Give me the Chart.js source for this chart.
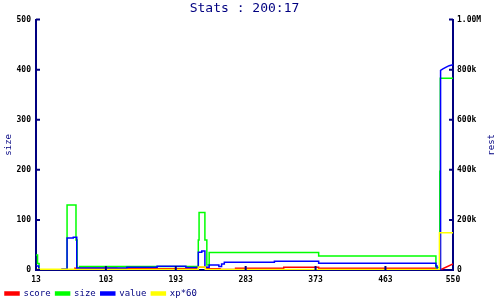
<!DOCTYPE html>
<html>
<head>
<meta charset="utf-8">
<script src="https://cdn.jsdelivr.net/npm/chart.js@4"></script>
<style>
  html, body { margin: 0; padding: 0; background: #fff; }
</style>
</head>
<body>
<canvas id="grafica" width="500" height="300"></canvas>
<script>
// --- datos ---
const titulo = 'Stats : 200:17';
const xTicks = [13, 103, 193, 283, 373, 463, 550];

// size (eje izquierdo)
const sizeX = [13, 15, 15, 17, 17, 53, 53, 64.5, 64.5, 66, 66, 69, 69, 222, 222, 223, 223, 230.5, 230.5, 233, 233, 236, 236, 377, 377, 528, 528, 533, 533, 533.6, 533.6, 550];
const sizeY = [30, 30, 13, 13, 0, 0, 130, 130, 60, 60, 0, 0, 7, 7, 60, 60, 115, 115, 60, 60, 10, 10, 35, 35, 28, 28, 5, 5, 197, 197, 383, 383];

// value (eje derecho)
const valueX = [13, 16.5, 16.5, 46.5, 46.5, 53, 53, 61, 61, 65.5, 65.5, 66, 66, 130, 130, 169, 169, 206, 206, 222, 222, 226.5, 226.5, 230.5, 230.5, 236, 236, 248.5, 248.5, 252, 252, 255.5, 255.5, 320, 320, 377, 377, 528, 528, 529.5, 529.5, 534, 534, 537, 540, 545, 550];
const valueY = [16000, 16000, 0, 0, 4000, 4000, 128000, 128000, 131000, 131000, 4000, 4000, 8000, 8000, 11000, 11000, 15000, 15000, 10000, 10000, 71000, 71000, 76000, 76000, 11000, 11000, 20000, 20000, 14000, 14000, 24000, 24000, 31000, 31000, 35000, 35000, 27000, 27000, 16000, 16000, 0, 0, 797000, 803000, 808000, 816000, 820000];

// score (eje derecho)
const scoreX = [62, 117, 117, 220, 220, 233, 233, 250, 250, 270, 270, 332, 332, 377, 377, 528, 528, 533.3, 550];
const scoreY = [7000, 7000, 5000, 5000, 11000, 11000, 5000, 5000, 2000, 2000, 7000, 7000, 11000, 11000, 7000, 7000, 0, 0, 24000];

// xp*60 (eje derecho)
const xpX = [13, 62, 62, 222, 222, 231, 231, 532.5, 532.5, 550];
const xpY = [3000, 3000, 1500, 1500, 12000, 12000, 1500, 1500, 149000, 149000];

const AZUL = '#000080';
const FUENTE = 'DejaVu Sans Mono';

function puntos(xs, ys) {
    return xs.map((x, i) => ({ x: x, y: ys[i] }));
}

function serie(label, color, xs, ys, eje, orden) {
    return {
        label: label,
        data: puntos(xs, ys),
        borderColor: color,
        backgroundColor: color,
        borderWidth: 1.5,
        pointRadius: 0,
        tension: 0,
        yAxisID: eje,
        order: orden
    };
}

// marcas cortas hacia dentro del area del grafico, en cada tick de los tres ejes
const marcasInternas = {
    id: 'marcasInternas',
    afterDraw(chart) {
        const ctx = chart.ctx;
        const area = chart.chartArea;
        const largo = 4;
        ctx.save();
        ctx.strokeStyle = AZUL;
        ctx.lineWidth = 2;
        ctx.beginPath();
        chart.scales.x.ticks.forEach(t => {
            const px = chart.scales.x.getPixelForValue(t.value);
            ctx.moveTo(px, area.bottom);
            ctx.lineTo(px, area.bottom - largo);
        });
        chart.scales.y.ticks.forEach(t => {
            const py = chart.scales.y.getPixelForValue(t.value);
            ctx.moveTo(area.left, py);
            ctx.lineTo(area.left + largo, py);
        });
        chart.scales.y1.ticks.forEach(t => {
            const py = chart.scales.y1.getPixelForValue(t.value);
            ctx.moveTo(area.right, py);
            ctx.lineTo(area.right - largo, py);
        });
        ctx.stroke();

        // titulo del eje derecho, escrito de abajo hacia arriba como el izquierdo
        const s = chart.scales.y1;
        ctx.translate(s.right - 8, (area.top + area.bottom) / 2);
        ctx.rotate(-Math.PI / 2);
        ctx.fillStyle = AZUL;
        ctx.font = '9px "' + FUENTE + '"';
        ctx.textAlign = 'center';
        ctx.textBaseline = 'middle';
        ctx.fillText('rest', 0, 0);
        ctx.restore();
    }
};

function formatoDerecho(v) {
    if (v >= 1000000) return (v / 1000000).toFixed(2) + 'M';
    if (v > 0) return (v / 1000) + 'k';
    return '0';
}

const rejilla = { drawOnChartArea: false, drawTicks: false };
const borde = { color: AZUL, width: 2 };
const fuenteTicks = { family: FUENTE, size: 8, weight: 'bold' };

const ctx = document.getElementById('grafica').getContext('2d');
new Chart(ctx, {
    type: 'line',
    data: {
        datasets: [
            serie('score', '#ff0000', scoreX, scoreY, 'y1', 4),
            serie('size', '#00ff00', sizeX, sizeY, 'y', 3),
            serie('value', '#0000ff', valueX, valueY, 'y1', 2),
            serie('xp*60', '#ffff00', xpX, xpY, 'y1', 1)
        ]
    },
    options: {
        responsive: false,
        animation: false,
        layout: { padding: 0 },
        plugins: {
            title: {
                display: true,
                text: titulo,
                color: AZUL,
                fullSize: false,
                font: { family: FUENTE, size: 13, weight: 'normal' },
                padding: { top: 1, bottom: 3 }
            },
            legend: {
                position: 'bottom',
                align: 'start',
                maxHeight: 16,
                labels: {
                    boxWidth: 14,
                    boxHeight: 3,
                    padding: 5,
                    color: AZUL,
                    font: { family: FUENTE, size: 9 },
                    sort: (a, b) => a.datasetIndex - b.datasetIndex
                }
            },
            tooltip: { enabled: false }
        },
        scales: {
            x: {
                type: 'linear',
                position: 'bottom',
                min: 13,
                max: 550,
                afterBuildTicks: s => { s.ticks = xTicks.map(v => ({ value: v })); },
                afterFit: s => { s.height = 14; },
                ticks: { autoSkip: false, maxRotation: 0, padding: 5, color: '#000', font: fuenteTicks },
                grid: rejilla,
                border: borde
            },
            y: {
                position: 'left',
                min: 0,
                max: 500,
                afterFit: s => { s.width = 36; },
                ticks: { stepSize: 100, padding: 5, color: '#000', font: fuenteTicks },
                title: {
                    display: true,
                    text: 'size',
                    color: AZUL,
                    font: { family: FUENTE, size: 9 },
                    padding: { top: 3, bottom: 0 }
                },
                grid: rejilla,
                border: borde
            },
            y1: {
                position: 'right',
                min: 0,
                max: 1000000,
                afterFit: s => { s.width = 47; },
                ticks: { stepSize: 200000, padding: 4, color: '#000', font: fuenteTicks, callback: v => formatoDerecho(v) },
                grid: rejilla,
                border: borde
            }
        }
    },
    plugins: [marcasInternas]
});
</script>
</body>
</html>
